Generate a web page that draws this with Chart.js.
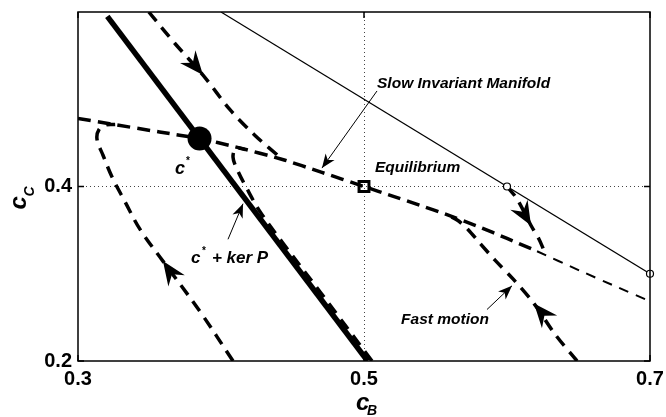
<!DOCTYPE html>
<html>
<head>
<meta charset="utf-8">
<script src="https://cdn.jsdelivr.net/npm/chart.js@4.4.1/dist/chart.umd.min.js"></script>
<style>
  html, body { margin: 0; padding: 0; background: #fff; }
  #wrap { width: 666px; height: 417px; }
</style>
</head>
<body>
<div id="wrap"><canvas id="phase" width="666" height="417"></canvas></div>
<script>
// ---- axes ----
const xTicks = [0.3, 0.5, 0.7];
const yTicks = [0.2, 0.4];
const xTickLabels = ['0.3', '0.5', '0.7'];
const yTickLabels = ['0.2', '0.4'];

// ---- slow invariant manifold ----
const manifoldX = [0.300, 0.322, 0.357, 0.385, 0.410, 0.443, 0.470, 0.500, 0.520, 0.540, 0.558, 0.580, 0.600, 0.621, 0.651, 0.676, 0.700];
const manifoldY = [0.478, 0.472, 0.4625, 0.455, 0.4455, 0.431, 0.4165, 0.400, 0.389, 0.378, 0.3678, 0.354, 0.3405, 0.3258, 0.3035, 0.2855, 0.2685];

// ---- c* + ker P ----
const kerX = [0.3205, 0.5025];
const kerY = [0.595, 0.2];

// ---- cB + cC = 1 ----
const massX = [0.4, 0.7];
const massY = [0.6, 0.3];

// ---- trajectories (fast motion onto the manifold) ----
const traj1X = [0.3495, 0.3678, 0.3874, 0.4063, 0.4238, 0.443];
const traj1Y = [0.600, 0.5639, 0.5277, 0.4880, 0.4585, 0.431];
const traj2X = [0.4084, 0.3853, 0.3594, 0.3434, 0.3329, 0.3238, 0.3175, 0.3133, 0.3147, 0.3196, 0.326];
const traj2Y = [0.200, 0.2567, 0.3145, 0.3508, 0.3825, 0.4109, 0.4358, 0.4540, 0.4653, 0.4705, 0.471];
const traj3X = [0.5056, 0.4692, 0.4434, 0.4273, 0.4182, 0.4112, 0.4084, 0.4105, 0.4168];
const traj3Y = [0.200, 0.2794, 0.3349, 0.3712, 0.3973, 0.4200, 0.4336, 0.4438, 0.4425];
const traj4X = [0.600, 0.607, 0.6168, 0.6224, 0.6252, 0.6273];
const traj4Y = [0.400, 0.3859, 0.3553, 0.3395, 0.3293, 0.3211];
const traj5X = [0.649, 0.6336, 0.6189, 0.6042, 0.5916, 0.5811, 0.5727, 0.5657, 0.558];
const traj5Y = [0.200, 0.2306, 0.2658, 0.2941, 0.3156, 0.3349, 0.3508, 0.3610, 0.3678];

// direction arrows on the trajectories (tip and a point behind it)
const arrowTipX = [0.3874, 0.3594, 0.6168, 0.6189];
const arrowTipY = [0.5277, 0.3145, 0.3553, 0.2658];
const arrowTailX = [0.3783, 0.3699, 0.6091, 0.6301];
const arrowTailY = [0.5458, 0.2896, 0.3769, 0.2442];

// ---- special points ----
const cStar = [0.385, 0.455];
const equilibrium = [0.5, 0.4];
const startX = [0.6, 0.7];
const startY = [0.4, 0.3];

// ---- annotations ----
const noteText = ['Slow Invariant Manifold', 'Equilibrium', 'Fast motion'];
const noteX = [0.5091, 0.5077, 0.5259];
const noteY = [0.5129, 0.4166, 0.2420];
const pointerFromX = [0.5091, 0.4049, 0.5860];
const pointerFromY = [0.5095, 0.3395, 0.2590];
const pointerToX = [0.4706, 0.4154, 0.6035];
const pointerToY = [0.4211, 0.3803, 0.2862];

const FONT = '"Liberation Sans", Arial, Helvetica, sans-serif';
const pts = (xs, ys) => xs.map((v, i) => ({ x: v, y: ys[i] }));

const manifoldAll = pts(manifoldX, manifoldY);
const manifoldBold = manifoldAll.filter(p => p.x <= 0.621);
const manifoldThin = manifoldAll.filter(p => p.x >= 0.621);

function lineSet(data, width, dash, order, tension) {
  return {
    data, showLine: true, borderColor: '#000', borderWidth: width,
    borderDash: dash, borderCapStyle: 'butt', borderJoinStyle: 'round',
    pointRadius: 0, tension: tension || 0, order
  };
}

function arrowHead(ctx, tx, ty, bx, by, len, half, notch) {
  const a = Math.atan2(ty - by, tx - bx);
  ctx.save();
  ctx.translate(tx, ty);
  ctx.rotate(a);
  ctx.beginPath();
  ctx.moveTo(0, 0);
  ctx.lineTo(-len, -half);
  ctx.lineTo(-len + notch, 0);
  ctx.lineTo(-len, half);
  ctx.closePath();
  ctx.fill();
  ctx.restore();
}

const decorations = {
  id: 'decorations',
  beforeDatasetsDraw(chart) {
    // dotted grid at the inner ticks
    const { ctx, chartArea: a, scales: { x, y } } = chart;
    ctx.save();
    ctx.strokeStyle = '#444';
    ctx.lineWidth = 1;
    ctx.setLineDash([1, 3]);
    xTicks.filter(v => v > x.min && v < x.max).forEach(v => {
      const px = Math.round(x.getPixelForValue(v)) + 0.5;
      ctx.beginPath(); ctx.moveTo(px, a.top); ctx.lineTo(px, a.bottom); ctx.stroke();
    });
    yTicks.filter(v => v > y.min && v < y.max).forEach(v => {
      const py = Math.round(y.getPixelForValue(v)) + 0.5;
      ctx.beginPath(); ctx.moveTo(a.left, py); ctx.lineTo(a.right, py); ctx.stroke();
    });
    ctx.restore();
  },
  afterDatasetsDraw(chart) {
    const { ctx, scales: { x, y } } = chart;
    ctx.save();
    ctx.fillStyle = '#000';
    ctx.strokeStyle = '#000';

    // trajectory arrows
    arrowTipX.forEach((v, i) => {
      arrowHead(ctx, x.getPixelForValue(v), y.getPixelForValue(arrowTipY[i]),
        x.getPixelForValue(arrowTailX[i]), y.getPixelForValue(arrowTailY[i]), 24, 10, 8);
    });

    // annotation pointers
    ctx.lineWidth = 1;
    pointerFromX.forEach((v, i) => {
      const fx = x.getPixelForValue(v), fy = y.getPixelForValue(pointerFromY[i]);
      const tx = x.getPixelForValue(pointerToX[i]), ty = y.getPixelForValue(pointerToY[i]);
      ctx.beginPath(); ctx.moveTo(fx, fy); ctx.lineTo(tx, ty); ctx.stroke();
      arrowHead(ctx, tx, ty, fx, fy, 14, 5.5, 4);
    });

    // text labels
    ctx.textBaseline = 'alphabetic';
    ctx.textAlign = 'left';
    ctx.font = 'bold italic 15.5px ' + FONT;
    noteText.forEach((t, i) => {
      ctx.fillText(t, x.getPixelForValue(noteX[i]), y.getPixelForValue(noteY[i]));
    });

    // c* beside the point
    let lx = x.getPixelForValue(0.3678), ly = y.getPixelForValue(0.4143);
    ctx.font = 'bold italic 18px ' + FONT;
    ctx.fillText('c', lx, ly);
    ctx.font = 'bold 10px ' + FONT;
    ctx.fillText('*', lx + 11, ly - 10);

    // c* + ker P
    lx = x.getPixelForValue(0.3790); ly = y.getPixelForValue(0.3122);
    ctx.font = 'bold italic 17px ' + FONT;
    ctx.fillText('c', lx, ly);
    ctx.font = 'bold 10px ' + FONT;
    ctx.fillText('*', lx + 11, ly - 9);
    ctx.font = 'bold italic 17px ' + FONT;
    ctx.fillText('+ ker P', lx + 21, ly);
    ctx.restore();
  },
  afterDraw(chart) {
    const { ctx, chartArea: a, scales: { x, y } } = chart;
    ctx.save();
    ctx.strokeStyle = '#000';
    ctx.fillStyle = '#000';
    ctx.lineWidth = 1.5;
    ctx.setLineDash([]);
    ctx.strokeRect(a.left, a.top, a.right - a.left, a.bottom - a.top);
    // inward tick marks on all four sides
    const tl = 6;
    xTicks.forEach(v => {
      const px = x.getPixelForValue(v);
      ctx.beginPath();
      ctx.moveTo(px, a.bottom); ctx.lineTo(px, a.bottom - tl);
      ctx.moveTo(px, a.top); ctx.lineTo(px, a.top + tl);
      ctx.stroke();
    });
    yTicks.forEach(v => {
      const py = y.getPixelForValue(v);
      ctx.beginPath();
      ctx.moveTo(a.left, py); ctx.lineTo(a.left + tl, py);
      ctx.moveTo(a.right, py); ctx.lineTo(a.right - tl, py);
      ctx.stroke();
    });

    // axis titles c_B and c_C
    ctx.textBaseline = 'alphabetic';
    ctx.textAlign = 'left';
    const xMid = (a.left + a.right) / 2;
    ctx.font = 'bold italic 24px ' + FONT;
    ctx.fillText('c', xMid - 8, 410);
    ctx.font = 'bold italic 14px ' + FONT;
    ctx.fillText('B', xMid + 3, 415);

    const yMid = (a.top + a.bottom) / 2;
    ctx.translate(26, yMid + 23);
    ctx.rotate(-Math.PI / 2);
    ctx.font = 'bold italic 24px ' + FONT;
    ctx.fillText('c', 0, 0);
    ctx.font = 'bold italic 14px ' + FONT;
    ctx.fillText('C', 13, 8);
    ctx.restore();
  }
};

new Chart(document.getElementById('phase'), {
  type: 'scatter',
  data: {
    datasets: [
      // special points on top
      { data: [{ x: cStar[0], y: cStar[1] }], pointRadius: 12, pointStyle: 'circle',
        backgroundColor: '#000', borderColor: '#000', borderWidth: 0, order: 0, clip: false },
      { data: [{ x: equilibrium[0], y: equilibrium[1] }], pointRadius: 7, pointStyle: 'rect',
        backgroundColor: 'rgba(0,0,0,0)', borderColor: '#000', borderWidth: 3, order: 0, clip: false },
      { data: pts(startX, startY), pointRadius: 3.5, pointStyle: 'circle',
        backgroundColor: '#fff', borderColor: '#000', borderWidth: 1.2, order: 0, clip: false },
      // trajectories
      lineSet(pts(traj1X, traj1Y), 3.5, [12, 8], 1, 0.3),
      lineSet(pts(traj2X, traj2Y), 3.5, [12, 8], 1, 0.35),
      lineSet(pts(traj3X, traj3Y), 3.5, [12, 8], 1, 0.35),
      lineSet(pts(traj4X, traj4Y), 3.5, [12, 8], 1, 0.3),
      lineSet(pts(traj5X, traj5Y), 3.5, [12, 8], 1, 0.3),
      // manifold
      lineSet(manifoldBold, 3.5, [13, 7], 2, 0.2),
      lineSet(manifoldThin, 2, [10, 8], 2, 0.2),
      // c* + ker P and the mass line
      lineSet(pts(kerX, kerY), 5.5, [], 3),
      lineSet(pts(massX, massY), 1.2, [], 3)
    ]
  },
  options: {
    responsive: false,
    animation: false,
    devicePixelRatio: 1,
    layout: { padding: { top: 6, right: 16, bottom: 0, left: 0 } },
    plugins: { legend: { display: false }, tooltip: { enabled: false } },
    scales: {
      x: {
        type: 'linear', min: 0.3, max: 0.7,
        grid: { display: false, drawTicks: false },
        border: { display: false },
        afterBuildTicks: s => { s.ticks = xTicks.map(v => ({ value: v })); },
        afterFit: s => { s.height = 56; s.paddingLeft = 0; s.paddingRight = 0; },
        ticks: {
          padding: 6, color: '#000', maxRotation: 0,
          font: { family: FONT, size: 20, weight: 'bold' },
          callback: v => xTickLabels[xTicks.indexOf(v)]
        }
      },
      y: {
        type: 'linear', min: 0.2, max: 0.6,
        grid: { display: false, drawTicks: false },
        border: { display: false },
        afterBuildTicks: s => { s.ticks = yTicks.map(v => ({ value: v })); },
        afterFit: s => { s.width = 78; s.paddingTop = 0; s.paddingBottom = 0; },
        ticks: {
          padding: 6, color: '#000',
          font: { family: FONT, size: 20, weight: 'bold' },
          callback: v => yTickLabels[yTicks.indexOf(v)]
        }
      }
    }
  },
  plugins: [decorations]
});
</script>
</body>
</html>
